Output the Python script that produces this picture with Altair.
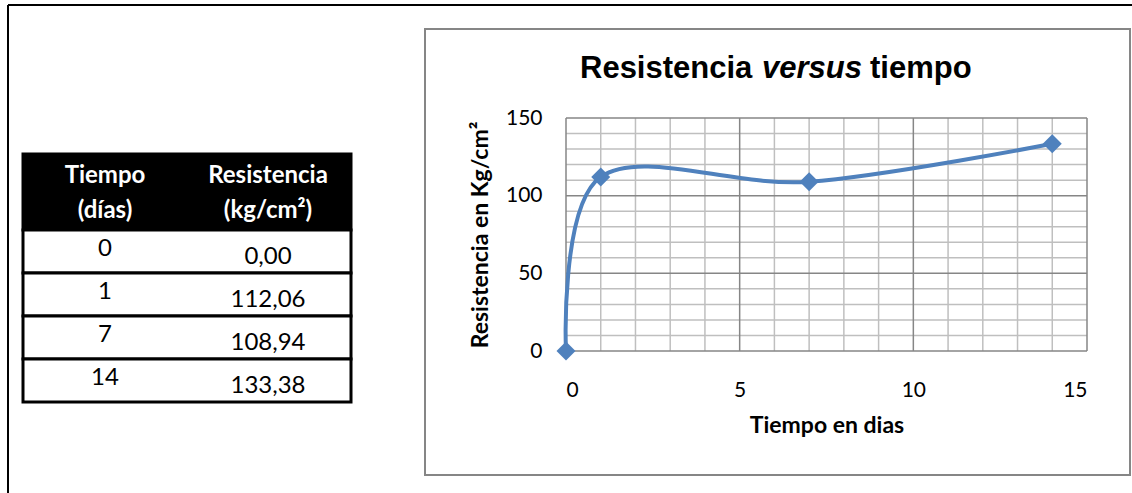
import altair as alt
import pandas as pd

# ---- data ----
tiempo = [0, 1, 7, 14]
resistencia = [0.00, 112.06, 108.94, 133.38]
tiempo_labels = ["0", "1", "7", "14"]
resistencia_labels = ["0,00", "112,06", "108,94", "133,38"]
header_col1 = ["Tiempo", "(días)"]
header_col2 = ["Resistencia", "(kg/cm²)"]
x_ticks = [0, 5, 10, 15]
x_minor = list(range(0, 16))
y_ticks = [0, 50, 100, 150]
y_minor = list(range(0, 151, 10))
title_parts = ["Resistencia", "versus", "tiempo"]
x_title = "Tiempo en dias"
y_title = "Resistencia en Kg/cm²"

# ---- layout ----
W, H = 521, 233          # plot area
PL, PT = 566, 118        # plot area origin on page
TOTAL_W, TOTAL_H = 1132, 493

BLUE = "#4f81bd"
MINOR = "#bfbfbf"
MAJOR = "#868686"
LABEL_FONT = "Lato"
TITLE_FONT = "Liberation Sans"

df = pd.DataFrame({"t": tiempo, "r": resistencia})
xs = alt.Scale(domain=[0, 15], nice=False, zero=False)
ys = alt.Scale(domain=[0, 150], nice=False, zero=False)

x_axis = alt.Axis(values=x_ticks, grid=False, domain=False, ticks=False,
                  labelFont=LABEL_FONT, labelFontSize=21, labelColor="#000000",
                  labelPadding=28, title=x_title, titleFont=LABEL_FONT,
                  titleFontSize=23, titleFontWeight="bold", titleColor="#000000",
                  titlePadding=14)
y_axis = alt.Axis(values=y_ticks, grid=False, domain=False, ticks=False,
                  labelFont=LABEL_FONT, labelFontSize=21, labelColor="#000000",
                  labelPadding=24, title=y_title, titleFont=LABEL_FONT,
                  titleFontSize=23, titleFontWeight="bold", titleColor="#000000",
                  titlePadding=13)

vx = pd.DataFrame({"v": x_minor})
vx["major"] = vx["v"].isin(x_ticks)
hy = pd.DataFrame({"v": y_minor})
hy["major"] = hy["v"].isin(y_ticks)

grid_v_minor = alt.Chart(vx[~vx["major"]]).mark_rule(color=MINOR, strokeWidth=1.5).encode(
    x=alt.X("v:Q", scale=xs, axis=x_axis))
grid_h_minor = alt.Chart(hy[~hy["major"]]).mark_rule(color=MINOR, strokeWidth=1.5).encode(
    y=alt.Y("v:Q", scale=ys, axis=y_axis))
grid_v_major = alt.Chart(vx[vx["major"]]).mark_rule(color=MAJOR, strokeWidth=1.5).encode(
    x=alt.X("v:Q", scale=xs, axis=x_axis))
grid_h_major = alt.Chart(hy[hy["major"]]).mark_rule(color=MAJOR, strokeWidth=1.5).encode(
    y=alt.Y("v:Q", scale=ys, axis=y_axis))

line = alt.Chart(df).mark_line(color=BLUE, strokeWidth=4, interpolate="cardinal").encode(
    x=alt.X("t:Q", scale=xs, axis=x_axis),
    y=alt.Y("r:Q", scale=ys, axis=y_axis))
pts = alt.Chart(df).mark_point(shape="diamond", filled=True, color=BLUE, size=360, opacity=1).encode(
    x=alt.X("t:Q", scale=xs, axis=x_axis), y=alt.Y("r:Q", scale=ys, axis=y_axis))

plot_group = alt.layer(grid_v_minor, grid_h_minor, grid_v_major, grid_h_major, line, pts)

# ---- title (mixed style) ----
one = pd.DataFrame({"k": [0]})
tdf = pd.DataFrame({"k": [0], "a": [title_parts[0]], "b": [title_parts[1]], "c": [title_parts[2]]})
TB = 78 - PT
title_a = alt.Chart(tdf).mark_text(font=TITLE_FONT, fontSize=31, fontWeight="bold", align="left",
                                   baseline="alphabetic", color="#000000").encode(
    text="a:N", x=alt.value(14), y=alt.value(TB))
title_b = alt.Chart(tdf).mark_text(font=TITLE_FONT, fontSize=31, fontWeight="bold", fontStyle="italic",
                                   align="left", baseline="alphabetic", color="#000000").encode(
    text="b:N", x=alt.value(196), y=alt.value(TB))
title_c = alt.Chart(tdf).mark_text(font=TITLE_FONT, fontSize=31, fontWeight="bold", align="left",
                                   baseline="alphabetic", color="#000000").encode(
    text="c:N", x=alt.value(304), y=alt.value(TB))

# ---- frames ----
chart_box = alt.Chart(one).mark_rect(filled=False, stroke=MAJOR, strokeWidth=2).encode(
    x=alt.value(425 - PL), x2=alt.value(1130 - PL), y=alt.value(29 - PT), y2=alt.value(475 - PT))
outer_top = alt.Chart(one).mark_rule(color="#000000", strokeWidth=2).encode(
    x=alt.value(8 - PL), x2=alt.value(TOTAL_W + 10 - PL), y=alt.value(5 - PT))
outer_left = alt.Chart(one).mark_rule(color="#000000", strokeWidth=2).encode(
    x=alt.value(8 - PL), y=alt.value(5 - PT), y2=alt.value(TOTAL_H + 10 - PT))

# ---- table ----
tab = pd.DataFrame({"row": list(range(len(tiempo))), "tl": tiempo_labels, "rl": resistencia_labels})
tab["row2"] = tab["row"] + 1
tab["mid"] = tab["row"] + 0.5
rs = alt.Scale(domain=[0, len(tiempo)], range=[230 - PT, 402 - PT], nice=False, zero=False)

TX1, TX2 = 23 - PL, 351 - PL
C1, C2 = 105 - PL, 268 - PL
rows_rect = alt.Chart(tab).mark_rect(fill="#ffffff", stroke="#000000", strokeWidth=3).encode(
    x=alt.value(TX1), x2=alt.value(TX2),
    y=alt.Y("row:Q", scale=rs, axis=None), y2="row2:Q")
col1_txt = alt.Chart(tab).mark_text(font=LABEL_FONT, fontSize=24, color="#000000", yOffset=-3).encode(
    text="tl:N", x=alt.value(C1), y=alt.Y("mid:Q", scale=rs, axis=None))
col2_txt = alt.Chart(tab).mark_text(font=LABEL_FONT, fontSize=24, color="#000000", yOffset=5).encode(
    text="rl:N", x=alt.value(C2), y=alt.Y("mid:Q", scale=rs, axis=None))

hdf = pd.DataFrame({"k": [0], "h1": ["\n".join(header_col1)], "h2": ["\n".join(header_col2)]})
header_rect = alt.Chart(one).mark_rect(fill="#000000", stroke="#000000", strokeWidth=3).encode(
    x=alt.value(TX1), x2=alt.value(TX2), y=alt.value(154 - PT), y2=alt.value(230 - PT))
head1 = alt.Chart(hdf).mark_text(font=LABEL_FONT, fontSize=24, fontWeight="bold", color="#ffffff",
                                 lineBreak="\n", lineHeight=35, baseline="middle").encode(
    text="h1:N", x=alt.value(C1), y=alt.value(176 - PT))
head2 = alt.Chart(hdf).mark_text(font=LABEL_FONT, fontSize=24, fontWeight="bold", color="#ffffff",
                                 lineBreak="\n", lineHeight=35, baseline="middle").encode(
    text="h2:N", x=alt.value(C2), y=alt.value(176 - PT))

table_group = alt.layer(rows_rect, col1_txt, col2_txt)

chart = alt.layer(
    outer_top, outer_left, chart_box, title_a, title_b, title_c, header_rect, head1, head2,
    plot_group, table_group
).resolve_scale(x="independent", y="independent").properties(
    width=W, height=H,
    autosize=alt.AutoSizeParams(type="none"),
    padding={"left": PL, "top": PT, "right": TOTAL_W - PL - W, "bottom": TOTAL_H - PT - H},
    background="#ffffff",
).configure_view(stroke=None)

chart.save("out.html", embed_options={"renderer": "svg", "actions": False})
